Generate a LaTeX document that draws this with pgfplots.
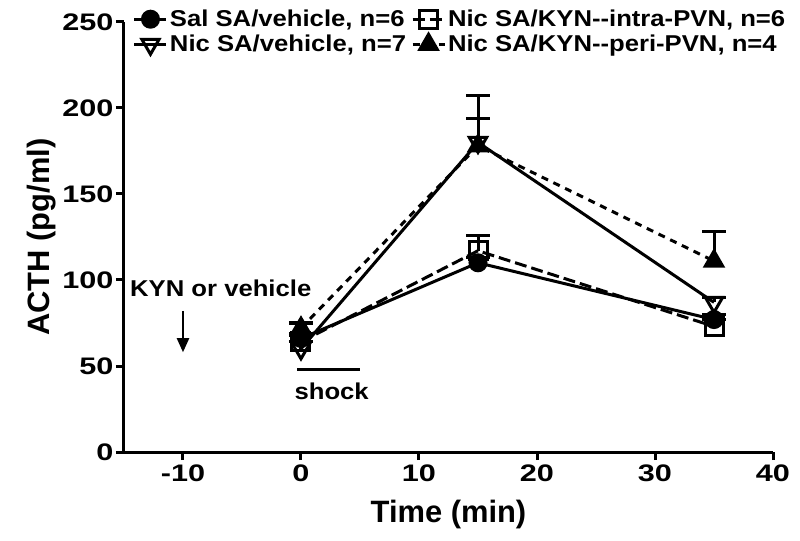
\documentclass[border=0pt]{standalone}
\usepackage{fontspec}
\setmainfont{Liberation Sans}
\newfontfamily\tickfont[FakeStretch=1.28]{Liberation Sans}
\newfontfamily\widefont[FakeStretch=1.12]{Liberation Sans}
\usepackage{pgfplots}
\pgfplotsset{compat=1.18}
\usetikzlibrary{arrows.meta}

\begin{document}
\begin{tikzpicture}
\begin{axis}[
    width=649bp, height=430bp, scale only axis,
    xmin=-15, xmax=40, ymin=0, ymax=250,
    axis x line=bottom, axis y line=left,
    axis line style={line width=3bp, -},
    xtick={-10,0,10,20,30,40},
    ytick={0,50,100,150,200,250},
    tick style={line width=3bp, black},
    major tick length=8bp,
    tick align=outside,
    /pgf/number format/assume math mode=true,
    ticklabel style={font=\tickfont\fontsize{24}{26}\selectfont\bfseries},
    xticklabel style={yshift=-1bp},
    yticklabel style={xshift=1bp},
    xlabel={Time (min)},
    ylabel={ACTH (pg/ml)},
    label style={font=\fontsize{31}{33}\selectfont\bfseries},
    xlabel style={yshift=-12bp},
    ylabel style={yshift=0bp},
    clip=false,
    every axis plot/.append style={line width=3bp, black},
    error bars/error bar style={line width=3bp, solid},
    error bars/error mark options={rotate=90, mark size=12bp, line width=3bp, solid},
    legend columns=2,
    legend cell align=left,
    legend style={draw=none, fill=none, at={(rel axis cs:0.012,1.035)}, anchor=north west,
        font=\widefont\fontsize{23}{25}\selectfont\bfseries, row sep=3bp, inner sep=1bp,
        /tikz/every even column/.append style={column sep=3bp}},
    legend image code/.code={\draw[mark repeat=2, mark phase=2, #1]
        plot coordinates {(0bp,0bp) (16bp,0bp) (32bp,0bp)};},
]
% Sal SA/vehicle
\addplot[solid, mark=*, mark size=8bp, mark options={solid, fill=black},
    error bars/.cd, y dir=plus, y explicit]
coordinates {(0,66) +- (0,3) (15,110) +- (0,3) (35,77) +- (0,3)};
% Nic SA/KYN--intra-PVN
\addplot[dash pattern=on 12bp off 5bp, mark=square, mark size=9bp, mark options={solid, fill=white},
    error bars/.cd, y dir=plus, y explicit]
coordinates {(0,64) +- (0,4) (15,117) +- (0,9) (35,73) +- (0,4)};
% Nic SA/vehicle
\addplot[solid, mark=triangle, mark size=10bp, mark options={solid, rotate=180, fill=white},
    error bars/.cd, y dir=plus, y explicit]
coordinates {(0,60) +- (0,4) (15,180) +- (0,14) (35,87) +- (0,3)};
% Nic SA/KYN--peri-PVN
\addplot[dash pattern=on 7bp off 6bp, mark=triangle*, mark size=10bp, mark options={solid, fill=black},
    error bars/.cd, y dir=plus, y explicit]
coordinates {(0,72) +- (0,3) (15,178) +- (0,29) (35,111) +- (0,17)};
\legend{Sal SA/vehicle{,} n=6, Nic SA/KYN-{}-intra-PVN{,} n=6, Nic SA/vehicle{,} n=7, Nic SA/KYN-{}-peri-PVN{,} n=4}
% annotations
\node[font=\widefont\fontsize{23}{25}\selectfont\bfseries] at (axis cs:-6.8,95) {KYN or vehicle};
\draw[-{Triangle[length=14bp,width=12bp]}, line width=2.2bp] (axis cs:-10,82) -- (axis cs:-10,58);
\draw[line width=3bp] (axis cs:-0.3,48) -- (axis cs:5,48);
\node[font=\widefont\fontsize{23}{25}\selectfont\bfseries] at (axis cs:2.6,35) {shock};
% page margins as in the reference
\path (rel axis cs:0,0) ++(-124bp,-89bp) coordinate (ll);
\path (rel axis cs:1,1) ++(27bp,22bp) coordinate (ur);
\end{axis}
\end{tikzpicture}
\end{document}
